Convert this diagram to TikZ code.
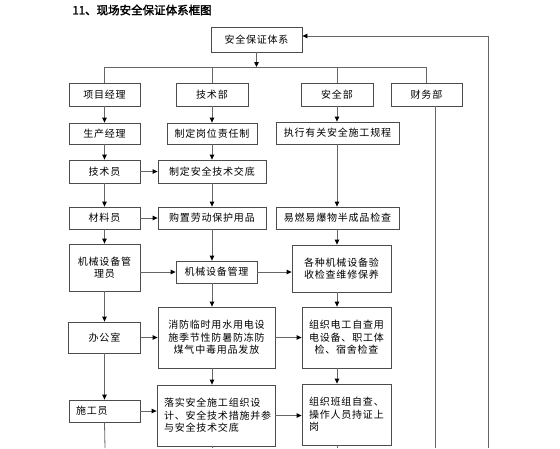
\documentclass[tikz,border=0pt]{standalone}
\usepackage{fontspec}
\setmainfont[LetterSpace=8]{Noto Sans CJK SC}
\newfontfamily\titlefont[FakeBold=2]{Noto Sans CJK SC}
\usetikzlibrary{positioning, arrows.meta}

\begin{document}
\begin{tikzpicture}[x=1pt, y=-1pt,
    box/.style={draw=black!70, line width=0.8pt, inner sep=0pt, align=center,
                font=\fontsize{10}{12.5}\selectfont},
    lbox/.style={box, align=left, inner xsep=7pt},
    link/.style={draw=black!60, line width=0.8pt},
    arr/.style={link, -{Triangle[length=5pt, width=4.5pt, color=black]}}]
    \useasboundingbox (0,0) rectangle (560,448);

    \node[font=\titlefont\fontsize{11.5}{14}\selectfont] (title) at (142,10) {11、现场安全保证体系框图};

    \node[box, minimum width=91, minimum height=25] (top) at (256.5,39.5) {安全保证体系};

    % first row
    \node[box, minimum width=71, minimum height=23] (pm) at (104.5,94.5) {项目经理};
    \node[box, minimum width=72, minimum height=23] (jsb) at (212,94.5) {技术部};
    \node[box, minimum width=72, minimum height=23] (aqb) at (337,94.5) {安全部};
    \node[box, minimum width=71, minimum height=23] (cwb) at (426.5,94.5) {财务部};

    % left column
    \node[box, minimum width=71, minimum height=21] (scjl) at (104.5,133.5) {生产经理};
    \node[box, minimum width=71, minimum height=23] (jsy) at (104.5,171.5) {技术员};
    \node[box, minimum width=71, minimum height=22] (cly) at (104.5,218) {材料员};
    \node[box, minimum width=71, minimum height=47] (jxy) at (104.5,267.5) {机械设备管\\理员};
    \node[box, minimum width=72, minimum height=31] (bgs) at (104.5,337.5) {办公室};
    \node[lbox, text width=57, minimum height=22] (sgy) at (104.5,411) {施工员};

    % middle column
    \node[box, minimum width=90, minimum height=21] (gwzr) at (212,133.5) {制定岗位责任制};
    \node[box, minimum width=108, minimum height=23] (jsjd) at (212,171.5) {制定安全技术交底};
    \node[box, minimum width=108, minimum height=22] (gzyp) at (212,218) {购置劳动保护用品};
    \node[box, minimum width=81, minimum height=22] (jxgl) at (216.5,272) {机械设备管理};
    \node[box, minimum width=117, minimum height=61] (xfff) at (216.5,337.5) {消防临时用水用电设\\施季节性防暑防冻防\\煤气中毒用品发放};
    \node[lbox, text width=104, minimum height=61] (lssg) at (216,415.5) {落实安全施工组织设\\计、安全技术措施并参\\与安全技术交底};

    % right column
    \node[box, minimum width=123, minimum height=22] (zxgc) at (337.5,133) {执行有关安全施工规程};
    \node[box, minimum width=123, minimum height=22] (yrjc) at (337.5,218) {易燃易爆物半成品检查};
    \node[box, minimum width=99, minimum height=47] (gzjx) at (341.5,268.5) {各种机械设备验\\收检查维修保养};
    \node[box, minimum width=89, minimum height=61] (zzdg) at (346.5,337.5) {组织电工自查用\\电设备、职工体\\检、宿舍检查};
    \node[lbox, text width=75, minimum height=61] (zzbz) at (346.5,414.5) {组织班组自查、\\操作人员持证上\\岗};

    \coordinate (bus) at (257,67);
    \coordinate (c3) at (337,67);
    \coordinate (b1) at (105,448);
    \coordinate (b2) at (212,448);
    \coordinate (b3) at (337,448);
    \coordinate (b4) at (435,448);
    \coordinate (r1) at (488,448);
    \coordinate (r2) at (488,36);

    % Draw edges
    \draw[arr] (top.south) -- (top.south |- bus);
    \draw[link] (pm.north |- bus) -- (cwb.north |- bus);
    \draw[link] (pm.north |- bus) -- (pm.north);
    \draw[link] (jsb.north |- bus) -- (jsb.north);
    \draw[link] (aqb.north |- bus) -- (aqb.north);
    \draw[link] (cwb.north |- bus) -- (cwb.north);

    \draw[arr] (pm.south) -- (scjl.north);
    \draw[arr] (scjl.south) -- (jsy.north);
    \draw[arr] (jsy.south) -- (cly.north);
    \draw[arr] (cly.south) -- (jxy.north);
    \draw[arr] (jxy.south) -- (bgs.north);
    \draw[arr] (bgs.south) -- (sgy.north);
    \draw[link] (sgy.south) -- (b1);

    \draw[arr] (jsb.south) -- (gwzr.north);
    \draw[arr] (gwzr.south) -- (jsjd.north);
    \draw[arr] (jsjd.south) -- (gzyp.north);
    \draw[arr] (gzyp.south) -- (gzyp.south |- jxgl.north);
    \draw[arr] (gzyp.south |- jxgl.south) -- (gzyp.south |- xfff.north);
    \draw[arr] (gzyp.south |- xfff.south) -- (gzyp.south |- lssg.north);
    \draw[link] (b2 |- lssg.south) -- (b2);

    \draw[arr] (c3 |- aqb.south) -- (c3 |- zxgc.north);
    \draw[arr] (c3 |- zxgc.south) -- (c3 |- yrjc.north);
    \draw[arr] (c3 |- yrjc.south) -- (c3 |- gzjx.north);
    \draw[arr] (c3 |- gzjx.south) -- (c3 |- zzdg.north);
    \draw[arr] (c3 |- zzdg.south) -- (c3 |- zzbz.north);
    \draw[link] (c3 |- zzbz.south) -- (b3);

    \draw[link] (b4 |- cwb.south) -- (b4);
    \draw[arr] (r1) -- (r2) -- (r2 -| top.east);

    \draw[arr] (jsy.east) -- (jsy.east -| jsjd.west);
    \draw[arr] (cly.east) -- (cly.east -| gzyp.west);
    \draw[arr] (jxy.east |- jxgl.west) -- (jxgl.west);
    \draw[arr] (jxgl.east) -- (jxgl.east -| gzjx.west);
    \draw[arr] (bgs.east) -- (bgs.east -| xfff.west);
    \draw[arr] (xfff.east) -- (xfff.east -| zzdg.west);
    \draw[arr] (sgy.east) -- (sgy.east -| lssg.west);
    \draw[arr] (lssg.east) -- (lssg.east -| zzbz.west);
\end{tikzpicture}
\end{document}
